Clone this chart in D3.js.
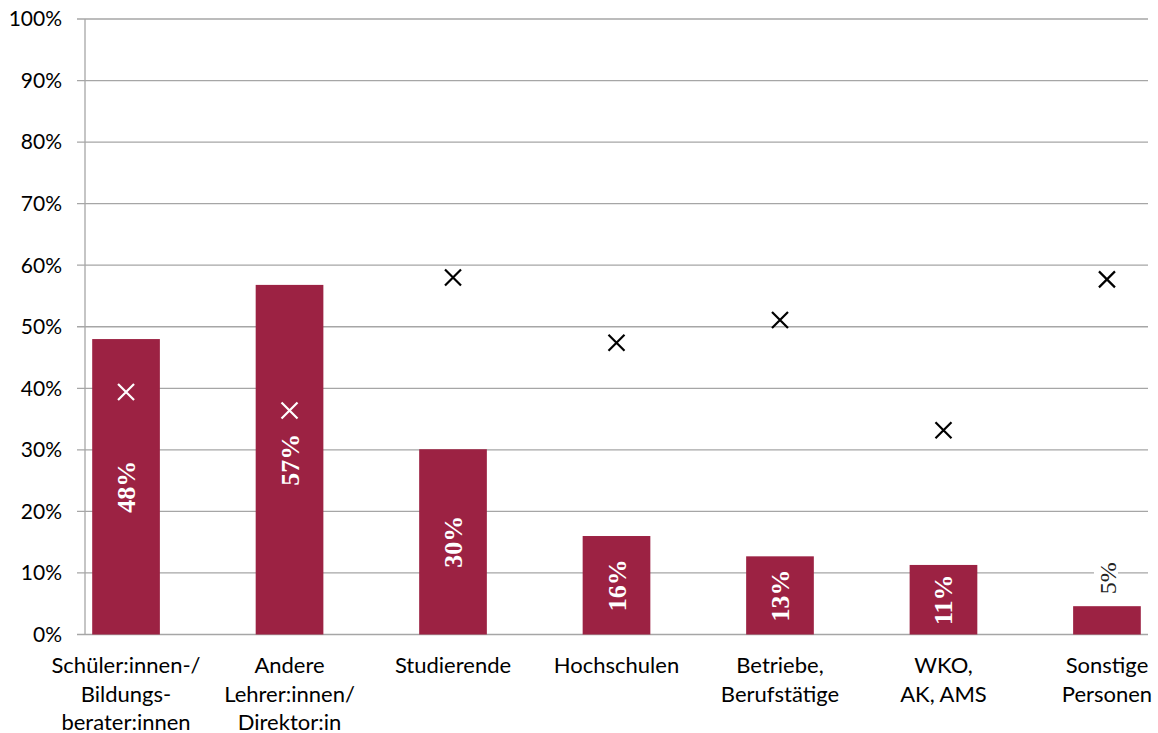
<!DOCTYPE html>
<html><head><meta charset="utf-8">
<script src="https://cdn.jsdelivr.net/npm/d3@7"></script>
<style>body{margin:0;background:#fff}svg{display:block}</style>
</head><body>
<svg id="chart" width="1158" height="733"></svg>
<script>
const categories = [
  ["Schüler:innen-/","Bildungs-","berater:innen"],
  ["Andere","Lehrer:innen/","Direktor:in"],
  ["Studierende"],
  ["Hochschulen"],
  ["Betriebe,","Berufstätige"],
  ["WKO,","AK, AMS"],
  ["Sonstige","Personen"]
];
const barValues = [48.0, 56.8, 30.1, 16.0, 12.7, 11.3, 4.6];
const markerValues = [39.4, 36.4, 58.0, 47.4, 51.1, 33.2, 57.7];
const yTicks = [0,10,20,30,40,50,60,70,80,90,100];

(function(){
const svg = d3.select("#chart");
const mLeft = 85, mRight = 1148, mTop = 19, mBottom = 634.5;
const barColor = "#9C2243";
const gridColor = "#A6A6A6";
const sans = "Lato, 'Open Sans', sans-serif";
const serif = "'Liberation Serif', serif";

const x = d3.scaleBand().domain(d3.range(categories.length)).range([mLeft, mRight])
  .paddingInner(0.586).paddingOuter(0.044);
const y = d3.scaleLinear().domain([0,100]).range([mBottom, mTop]);

svg.append("g").selectAll("line").data(yTicks).join("line")
  .attr("x1", mLeft - 8).attr("x2", mRight)
  .attr("y1", d => y(d)).attr("y2", d => y(d))
  .attr("stroke", gridColor).attr("stroke-width", 1.3);

svg.append("line").attr("x1", mLeft).attr("x2", mLeft).attr("y1", y(100)).attr("y2", y(0))
  .attr("stroke", gridColor).attr("stroke-width", 1.3);

svg.append("g").selectAll("text").data(yTicks).join("text")
  .attr("x", 62).attr("y", d => y(d)).attr("dy", "0.35em")
  .attr("text-anchor", "end").attr("font-family", sans).attr("font-size", 21)
  .attr("fill", "#000").text(d => d + "%");

svg.append("g").selectAll("rect").data(barValues).join("rect")
  .attr("x", (d,i) => x(i)).attr("width", x.bandwidth())
  .attr("y", d => y(d)).attr("height", d => y(0) - y(d))
  .attr("fill", barColor);

const lbl = svg.append("g");
barValues.forEach((v,i) => {
  const cx = x(i) + x.bandwidth()/2;
  const h = y(0) - y(v);
  const t = Math.round(v) + "%";
  if (h > 60) {
    const cy = (y(v) + y(0)) / 2;
    lbl.append("text").attr("transform", `translate(${cx + 9},${cy}) rotate(-90)`)
      .attr("text-anchor", "middle").attr("font-family", serif).attr("font-weight", "bold")
      .attr("font-size", 26).attr("fill", "#fff").text(t);
  } else {
    const cy = y(v) - 28;
    const g = lbl.append("g").attr("transform", `translate(${cx + 9},${cy}) rotate(-90)`);
    g.append("rect").attr("x", -17).attr("y", -22).attr("width", 34).attr("height", 24).attr("fill", "#fff");
    g.append("text").attr("text-anchor", "middle").attr("font-family", serif)
      .attr("font-size", 24).attr("fill", "#222").text(t);
  }
});

const ms = 8;
svg.append("g").selectAll("path").data(markerValues).join("path")
  .attr("d", (d,i) => {
    const cx = x(i) + x.bandwidth()/2, cy = y(d);
    return `M${cx-ms},${cy-ms}L${cx+ms},${cy+ms}M${cx-ms},${cy+ms}L${cx+ms},${cy-ms}`;
  })
  .attr("stroke", (d,i) => d < barValues[i] ? "#fff" : "#000")
  .attr("stroke-width", 2.2).attr("fill", "none");

const cg = svg.append("g");
categories.forEach((lines, i) => {
  const cx = x(i) + x.bandwidth()/2;
  const t = cg.append("text").attr("text-anchor", "middle").attr("font-family", sans)
    .attr("font-size", 22).attr("fill", "#000");
  lines.forEach((l, j) => {
    t.append("tspan").attr("x", cx).attr("y", 673 + j * 28.5).text(l);
  });
});
})();
</script>
</body></html>
